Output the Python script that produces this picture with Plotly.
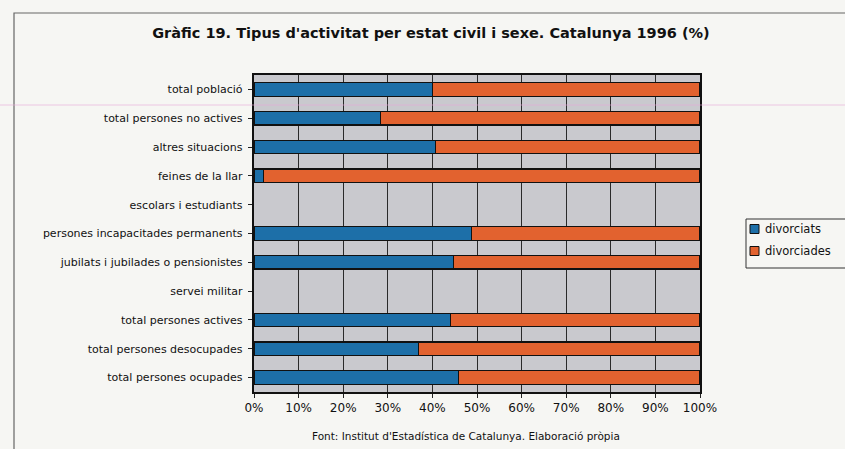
import plotly.graph_objects as go

categories = [
    "total població",
    "total persones no actives",
    "altres situacions",
    "feines de la llar",
    "escolars i estudiants",
    "persones incapacitades permanents",
    "jubilats i jubilades o pensionistes",
    "servei militar",
    "total persones actives",
    "total persones desocupades",
    "total persones ocupades",
]
divorciats = [40.0, 28.4, 40.7, 2.1, None, 48.7, 44.8, None, 44.0, 36.9, 45.9]
divorciades = [60.0, 71.6, 59.3, 97.9, None, 51.3, 55.2, None, 56.0, 63.1, 54.1]
x_ticks = [0, 10, 20, 30, 40, 50, 60, 70, 80, 90, 100]
x_tick_labels = [f"{v}%" for v in x_ticks]

series_names = ["divorciats", "divorciades"]
series_colors = ["#1d6fa8", "#e2622f"]

font_family = "'DejaVu Sans', sans-serif"
W, H = 845, 449
L, R, T, B = 254, 145, 75, 57


def px_x(px):
    """Pixel column -> paper x."""
    return (px - L) / (W - L - R)


def px_y(py):
    """Pixel row -> paper y."""
    return (H - B - py) / (H - T - B)


fig = go.Figure()
for name, color, vals in zip(series_names, series_colors, [divorciats, divorciades]):
    fig.add_trace(go.Bar(
        y=categories, x=vals, name=name, orientation="h",
        marker=dict(color=color, line=dict(color="#111111", width=1.3)),
        showlegend=False,
    ))

fig.update_layout(
    width=W, height=H,
    barmode="stack", bargap=0.53,
    paper_bgcolor="#f6f6f3", plot_bgcolor="#c9c9ce",
    margin=dict(l=L, r=R, t=T, b=B, autoexpand=False),
    font=dict(family=font_family, color="#111111", size=11),
    title=dict(
        text="<b>Gràfic 19. Tipus d'activitat per estat civil i sexe. Catalunya 1996 (%)</b>",
        x=0.51, xanchor="center", y=0.927, yanchor="middle",
        font=dict(size=14.5, family=font_family, color="#111111"),
    ),
    xaxis=dict(
        range=[0, 100], tickvals=x_ticks, ticktext=x_tick_labels,
        showgrid=True, gridcolor="#2a2a2a", gridwidth=1,
        ticks="outside", ticklen=4, tickcolor="#222",
        showline=True, linecolor="#111", linewidth=1.5, mirror=True,
        tickfont=dict(size=12), zeroline=False,
    ),
    yaxis=dict(
        autorange="reversed", ticks="outside", ticklen=4, tickcolor="#222",
        showline=True, linecolor="#111", linewidth=1.5, mirror=True,
        tickfont=dict(size=11), ticksuffix=" ",
    ),
    showlegend=False,
)

fig.add_annotation(
    text="Font: Institut d'Estadística de Catalunya. Elaboració pròpia",
    xref="paper", yref="paper", x=px_x(466), y=px_y(436), xanchor="center", yanchor="middle",
    showarrow=False, font=dict(size=10.5, family=font_family, color="#111"),
)

# legend box drawn by hand, running off the right edge
fig.add_shape(type="rect", xref="paper", yref="paper",
              x0=px_x(746), x1=px_x(860), y0=px_y(268), y1=px_y(219),
              line=dict(color="#333", width=1), fillcolor="#f6f6f3")
for i, (name, color) in enumerate(zip(series_names, series_colors)):
    cy = 229 + i * 22
    fig.add_shape(type="rect", xref="paper", yref="paper",
                  x0=px_x(750), x1=px_x(759), y0=px_y(cy + 4.5), y1=px_y(cy - 4.5),
                  line=dict(color="#111", width=1), fillcolor=color)
    fig.add_annotation(text=name, xref="paper", yref="paper",
                       x=px_x(763), y=px_y(cy), xanchor="left", yanchor="middle",
                       showarrow=False, font=dict(size=11.5, family=font_family, color="#111"))

# outer frame of the figure box and a faint pink rule across the page
fig.add_shape(type="rect", xref="paper", yref="paper",
              x0=px_x(14), x1=px_x(900), y0=px_y(500), y1=px_y(13),
              line=dict(color="#666", width=1.2), layer="below")
fig.add_shape(type="line", xref="paper", yref="paper",
              x0=px_x(0), x1=px_x(900), y0=px_y(105), y1=px_y(105),
              line=dict(color="#e8a8d8", width=1), opacity=0.6, layer="above")

fig.write_html("out.html")
